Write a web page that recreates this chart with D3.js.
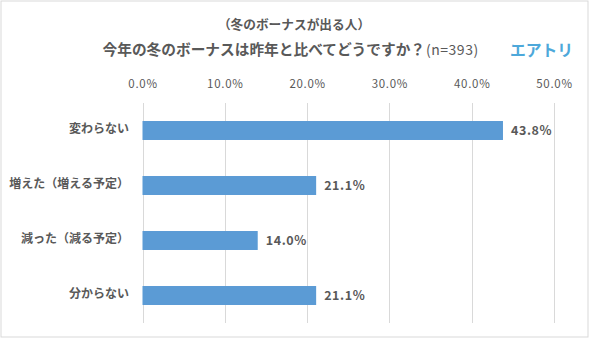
<!DOCTYPE html>
<html><head><meta charset="utf-8">
<script src="https://cdn.jsdelivr.net/npm/d3@7"></script>
<style>html,body{margin:0;padding:0;background:#fff;}svg{display:block;}</style>
</head><body>
<svg id="c" width="589" height="338"></svg>
<script>
const categories = ["変わらない", "増えた（増える予定）", "減った（減る予定）", "分からない"];
const values = [43.8, 21.1, 14.0, 21.1];
const tickValues = [0, 10, 20, 30, 40, 50];
const subTitle = "（冬のボーナスが出る人）";
const mainTitle = "今年の冬のボーナスは昨年と比べてどうですか？";
const sampleNote = "(n=393)";
const brand = "エアトリ";

const svg = d3.select("#c");
const font = "'Noto Sans CJK JP', 'Noto Sans', sans-serif";
const textColor = "#595959";

svg.append("rect").attr("x", 1).attr("y", 1).attr("width", 587).attr("height", 336)
  .attr("fill", "#fff").attr("stroke", "#d9d9d9").attr("stroke-width", 1);

const x = d3.scaleLinear().domain([0, 50]).range([142.5, 554]);
const y = d3.scaleBand().domain(categories).range([103, 323]).paddingInner(0.655).paddingOuter(0.3275);

// gridlines
svg.append("g").selectAll("line").data(tickValues).join("line")
  .attr("x1", d => Math.round(x(d)) + 0.5).attr("x2", d => Math.round(x(d)) + 0.5)
  .attr("y1", 103).attr("y2", 323)
  .attr("stroke", "#d9d9d9").attr("stroke-width", 1);

// top axis labels
const axis = d3.axisTop(x).tickValues(tickValues).tickFormat(d => d.toFixed(1) + "%").tickSize(0).tickPadding(0);
const ag = svg.append("g").attr("transform", "translate(0,88)").call(axis);
ag.select(".domain").remove();
ag.selectAll("text").attr("font-family", font).attr("font-size", 11.5).attr("letter-spacing", 0.7).attr("fill", textColor);

// bars
svg.append("g").selectAll("rect").data(values).join("rect")
  .attr("x", x(0)).attr("y", (d, i) => y(categories[i]))
  .attr("width", d => x(d) - x(0)).attr("height", y.bandwidth())
  .attr("fill", "#5B9BD5");

// value labels
svg.append("g").selectAll("text").data(values).join("text")
  .attr("x", d => x(d) + 8).attr("y", (d, i) => y(categories[i]) + y.bandwidth() / 2)
  .attr("dy", "0.35em").attr("font-family", font).attr("font-size", 12.5).attr("letter-spacing", 0.6).attr("font-weight", "bold")
  .attr("fill", textColor).text(d => d.toFixed(1) + "%");

// category labels
svg.append("g").selectAll("text").data(categories).join("text")
  .attr("x", 129).attr("y", d => y(d) + y.bandwidth() / 2 - 1.5)
  .attr("dy", "0.35em").attr("text-anchor", "end")
  .attr("font-family", font).attr("font-size", 12).attr("font-weight", "bold")
  .attr("fill", textColor).text(d => d);

// titles
svg.append("text").attr("x", 294).attr("y", 25).attr("dy", "0.35em").attr("text-anchor", "middle")
  .attr("font-family", font).attr("font-size", 12.7).attr("font-weight", "bold").attr("fill", textColor)
  .text(subTitle);

const t2 = svg.append("text").attr("x", 102.5).attr("y", 49).attr("dy", "0.35em")
  .attr("font-family", font).attr("fill", textColor);
t2.append("tspan").attr("font-size", 14.7).attr("font-weight", "bold").text(mainTitle);
t2.append("tspan").attr("font-size", 14).attr("letter-spacing", 0.5).attr("dx", 1).text(sampleNote);

svg.append("text").attr("x", 510).attr("y", 50).attr("dy", "0.35em")
  .attr("font-family", font).attr("font-size", 16).attr("font-weight", "bold")
  .attr("fill", "#4DA8DA").attr("textLength", 63).attr("lengthAdjust", "spacingAndGlyphs").text(brand);
</script>
</body></html>
